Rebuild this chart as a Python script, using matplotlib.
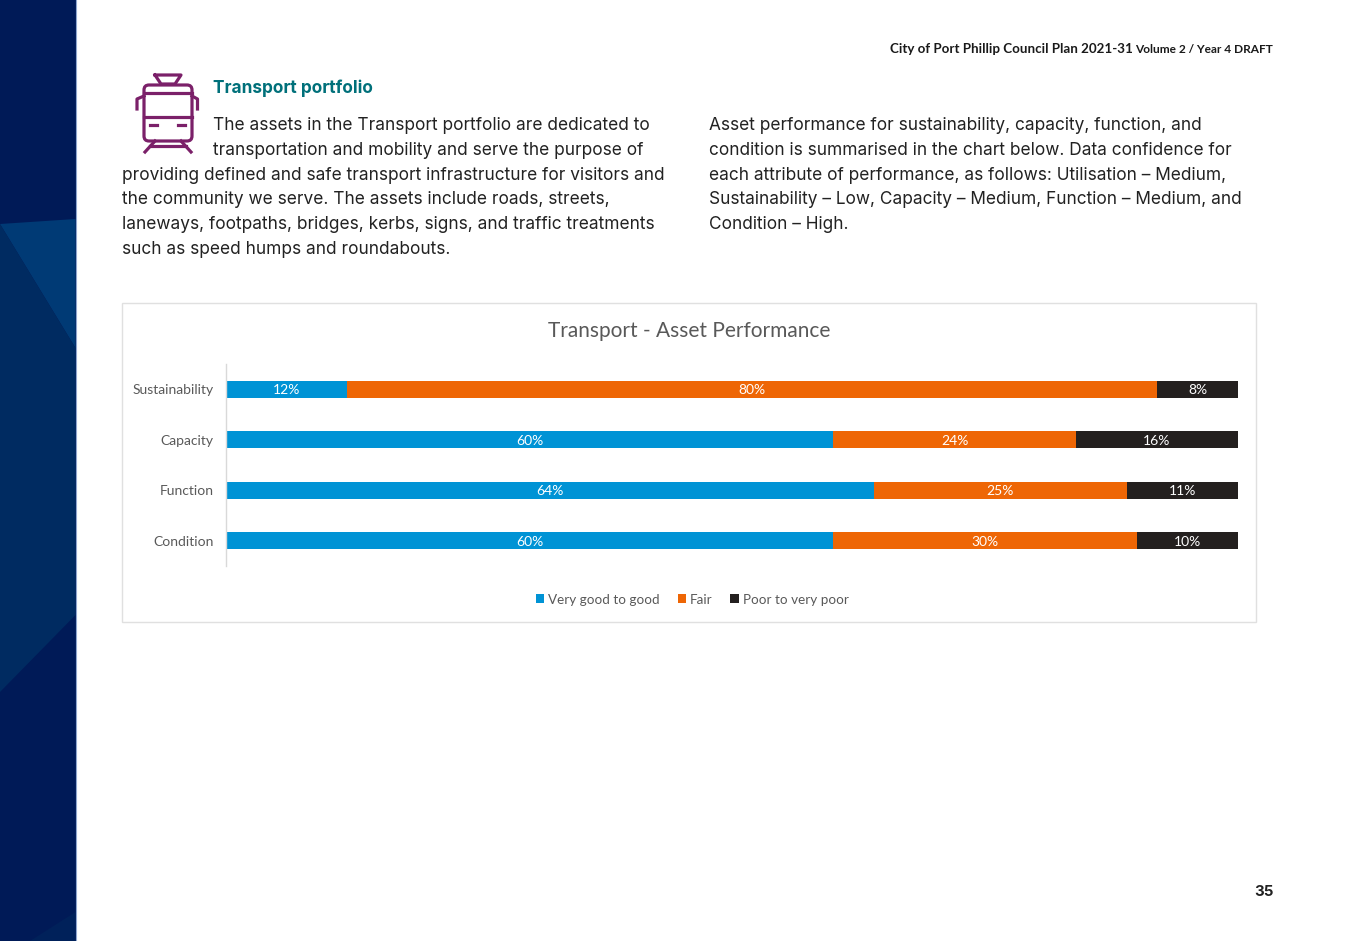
import matplotlib
matplotlib.use('Agg')
import matplotlib.pyplot as plt
from matplotlib.patches import Polygon, Rectangle, FancyBboxPatch
import numpy as np

# data
categories = ['Sustainability', 'Capacity', 'Function', 'Condition']
good = [12, 60, 64, 60]
fair = [80, 24, 25, 30]
poor = [8, 16, 11, 10]
series_names = ['Very good to good', 'Fair', 'Poor to very poor']
series_colors = ['#0093D5', '#EE6605', '#24201F']

left_lines = [
    (213, 124, 'The assets in the Transport portfolio are dedicated to'),
    (213, 149, 'transportation and mobility and serve the purpose of'),
    (122, 174, 'providing defined and safe transport infrastructure for visitors and'),
    (122, 198, 'the community we serve. The assets include roads, streets,'),
    (122, 223, 'laneways, footpaths, bridges, kerbs, signs, and traffic treatments'),
    (122, 248, 'such as speed humps and roundabouts.'),
]
right_lines = [
    (709, 124, 'Asset performance for sustainability, capacity, function, and'),
    (709, 149, 'condition is summarised in the chart below. Data confidence for'),
    (709, 174, 'each attribute of performance, as follows: Utilisation \u2013 Medium,'),
    (709, 198, 'Sustainability \u2013 Low, Capacity \u2013 Medium, Function \u2013 Medium, and'),
    (709, 223, 'Condition \u2013 High.'),
]

W, H = 1347, 941
fig = plt.figure(figsize=(W / 100, H / 100), dpi=100, facecolor='white')

# page layer in pixel coords
page = fig.add_axes([0, 0, 1, 1])
page.set_xlim(0, W)
page.set_ylim(H, 0)
page.axis('off')

# side band
page.add_patch(Rectangle((0, 0), 75.5, H, fc='#001A57', ec='none'))
page.add_patch(Polygon([(0, 224), (75.5, 219), (75.5, 348)], fc='#003A75', ec='none'))
page.add_patch(Polygon([(0, 224), (75.5, 348), (75.5, 615), (0, 692)], fc='#002B61', ec='none'))
page.add_patch(Polygon([(30, 941), (75.5, 912), (75.5, 941)], fc='#00215A', ec='none'))
page.plot([75.8, 75.8], [0, H], color='#8FA6CF', lw=0.8)

page.text(1133, 49, 'City of Port Phillip Council Plan 2021-31', ha='right', va='center',
          family='Lato', weight='bold', fontsize=9.6, color='#1a1a1a')
page.text(1273, 49.5, 'Volume 2 / Year 4 DRAFT', ha='right', va='center',
          family='Lato', weight='bold', fontsize=8.6, color='#1a1a1a')
page.text(1274, 892, '35', ha='right', va='center', family='Inter', weight='bold',
          fontsize=10.8, color='#222222')

page.text(213, 88.5, 'Transport portfolio', ha='left', va='center', family='Inter',
          weight='bold', fontsize=12.4, color='#00707A')
for x, y, s in left_lines + right_lines:
    page.text(x, y + 1, s, ha='left', va='center', family='Inter', fontsize=12.45, color='#222222')

# train icon
ic = '#7B2069'
iw = 2.3
page.add_patch(FancyBboxPatch((144, 85), 48, 56, boxstyle='round,pad=0,rounding_size=5',
                              fc='none', ec=ic, lw=iw))
page.plot([144, 192], [93, 93], color=ic, lw=iw)
page.plot([144, 192], [117, 117], color=ic, lw=iw)
page.plot([155, 161, 175, 181, 155], [75, 84, 84, 75, 75], color=ic, lw=iw)
page.plot([137, 137, 144], [109, 99, 96], color=ic, lw=iw)
page.plot([197.5, 197.5, 192], [109, 99, 96], color=ic, lw=iw)
page.plot([150, 157], [125, 125], color=ic, lw=iw)
page.plot([178, 185], [125, 125], color=ic, lw=iw)
page.plot([155, 145], [141, 152], color=ic, lw=iw)
page.plot([181, 191], [141, 152], color=ic, lw=iw)
page.plot([150, 186], [146, 146], color=ic, lw=iw)

# chart frame
page.add_patch(Rectangle((122, 303), 1134, 319, fc='white', ec='#E0E0E0', lw=1))
page.text(689, 331, 'Transport - Asset Performance', ha='center', va='center',
          family='Lato', fontsize=15, color='#595959')

# chart
ax = fig.add_axes([226 / W, 1 - 566 / H, (1238 - 226) / W, (566 - 364) / H])
ax.patch.set_alpha(0)
y = np.arange(len(categories))
left = np.zeros(len(categories))
for name, vals, col in zip(series_names, [good, fair, poor], series_colors):
    bars = ax.barh(y, vals, left=left, height=0.34, color=col, label=name)
    labels = ax.bar_label(bars, labels=[f'{v}%' for v in vals], label_type='center', color='white',
                          family='Lato', fontsize=10)
    for lab in labels:
        lab.xyann = (0, -0.8)
    left = left + np.array(vals)

ax.set_xlim(0, 100)
ax.set_ylim(len(categories) - 0.5, -0.5)
ax.set_yticks(y)
ax.set_yticklabels(categories, family='Lato', fontsize=10, color='#595959')
ax.tick_params(axis='y', length=0, pad=9)
ax.set_xticks([])
for side in ['top', 'right', 'bottom']:
    ax.spines[side].set_visible(False)
ax.spines['left'].set_color('#D9D9D9')
ax.spines['left'].set_linewidth(1)

ax.legend(loc='center', bbox_to_anchor=(692 / W, 1 - 599.5 / H), bbox_transform=fig.transFigure,
          ncol=3, frameon=False, handlelength=0.65, handleheight=0.65, handletextpad=0.25,
          columnspacing=1.35, prop={'family': 'Lato', 'size': 9.7}, labelcolor='#595959')

fig.savefig('out.png', dpi=100)
